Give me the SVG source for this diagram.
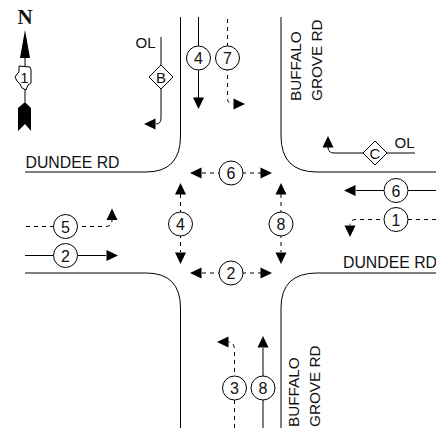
<svg xmlns="http://www.w3.org/2000/svg" width="436" height="434" viewBox="0 0 436 434">
<style>
text{font-family:"Liberation Sans",Arial,sans-serif;fill:#111}
.road{font-size:16px}
.roadv{font-size:15.300px}
.n{font-size:16px;text-anchor:middle}
.l{fill:none;stroke:#000;stroke-width:1}
.d{fill:none;stroke:#000;stroke-width:1;stroke-dasharray:4 4}
.c{fill:#fff;stroke:#000;stroke-width:1}
.a{fill:#000}
</style>
<defs>
<circle id="ci" r="12" class="c"/>
<polygon id="dm" points="0,-12 12,0 0,12 -12,0" class="c"/>
<polygon id="ah" points="0,0 -11.500,-5.500 -11.500,5.500" class="a"/>
</defs>
<g id="roads">
<path class="l" d="M180.500 17V136Q180.500 172 146 172H25"/>
<path class="l" d="M281 17V136Q281 172 317 172H436"/>
<path class="l" d="M25 273H146Q180.500 273 180.500 308V428"/>
<path class="l" d="M436 273H317Q281 273 281 308V428"/>
</g>
<g id="labels">
<text class="road" x="25.500" y="168" textLength="94" lengthAdjust="spacingAndGlyphs">DUNDEE RD</text>
<text class="road" x="343" y="268" textLength="94" lengthAdjust="spacingAndGlyphs">DUNDEE RD</text>
<text class="roadv" transform="translate(301 101) rotate(-90)">BUFFALO</text>
<text class="roadv" transform="translate(322 101) rotate(-90)">GROVE RD</text>
<text class="roadv" transform="translate(298.500 427) rotate(-90)">BUFFALO</text>
<text class="roadv" transform="translate(319.500 427) rotate(-90)">GROVE RD</text>
</g>
<g id="north">
<text x="25" y="24" text-anchor="middle" style="font-family:'Liberation Serif',serif;font-weight:bold;font-size:21px">N</text>
<path class="l" d="M25 50V102"/>
<polygon class="a" points="25,30 30,58 20,58"/>
<path class="c" d="M19 66L30 67L31 70L31 83L28 85L26 90L22 88L20 84L17 81L15 77L17 74L19 72Z"/>
<text x="24.500" y="83" text-anchor="middle" style="font-size:15px">1</text>
<polygon class="a" points="25,102 31,108 31,131 25,124 18,131 18,108"/>
</g>
<g id="connectors">
<path class="l" d="M161 37V118Q161 124 156 124"/><use href="#ah" transform="translate(144 124) rotate(180)"/>
<path class="l" d="M198.500 17V98"/><use href="#ah" transform="translate(198.500 109) rotate(90)"/>
<path class="d" d="M227.500 19V98Q227.500 104 233 104"/><use href="#ah" transform="translate(245 104)"/>
<path class="l" d="M415 153H334Q328 153 328 147"/><use href="#ah" transform="translate(328 136) rotate(-90)"/>
<path class="d" d="M202 173H261"/><use href="#ah" transform="translate(190 173) rotate(180)"/><use href="#ah" transform="translate(272 173)"/>
<path class="d" d="M202 273H261"/><use href="#ah" transform="translate(190 273) rotate(180)"/><use href="#ah" transform="translate(272 273)"/>
<path class="d" d="M180.500 194V252"/><use href="#ah" transform="translate(180.500 183) rotate(-90)"/><use href="#ah" transform="translate(180.500 264) rotate(90)"/>
<path class="d" d="M281 194V252"/><use href="#ah" transform="translate(281 183) rotate(-90)"/><use href="#ah" transform="translate(281 264) rotate(90)"/>
<path class="d" d="M26 226.500H106Q112 226.500 112 220"/><use href="#ah" transform="translate(112 208.500) rotate(-90)"/>
<path class="l" d="M25 255.500H106"/><use href="#ah" transform="translate(118 255.500)"/>
<path class="l" d="M436 190.500H356"/><use href="#ah" transform="translate(344 190.500) rotate(180)"/>
<path class="d" d="M436 219.500H356Q350 219.500 350 225"/><use href="#ah" transform="translate(350 237) rotate(90)"/>
<path class="d" d="M234.500 428V351Q234.500 342 229 342"/><use href="#ah" transform="translate(217 342) rotate(180)"/>
<path class="l" d="M263 428V348"/><use href="#ah" transform="translate(263 336) rotate(-90)"/>
</g>
<g id="n-4a"><use href="#ci" x="198.500" y="58"/><text class="n" x="198.500" y="64">4</text></g>
<g id="n-7"><use href="#ci" x="227.500" y="58"/><text class="n" x="227.500" y="64">7</text></g>
<g id="n-b"><text x="135.500" y="48" style="font-size:15px">OL</text><use href="#dm" x="161" y="77"/><text class="n" x="161" y="83" style="font-size:15px">B</text></g>
<g id="n-c"><text x="394.500" y="148" style="font-size:15px">OL</text><use href="#dm" x="375" y="153"/><text class="n" x="375" y="159" style="font-size:15px">C</text></g>
<g id="n-6a"><use href="#ci" x="231" y="173"/><text class="n" x="231" y="179">6</text></g>
<g id="n-2a"><use href="#ci" x="231" y="273"/><text class="n" x="231" y="279">2</text></g>
<g id="n-4b"><use href="#ci" x="180.500" y="224"/><text class="n" x="180.500" y="230">4</text></g>
<g id="n-8a"><use href="#ci" x="281" y="224"/><text class="n" x="281" y="230">8</text></g>
<g id="n-5"><use href="#ci" x="65.500" y="226.500"/><text class="n" x="65.500" y="232.500">5</text></g>
<g id="n-2b"><use href="#ci" x="65.500" y="255.500"/><text class="n" x="65.500" y="261.500">2</text></g>
<g id="n-6b"><use href="#ci" x="396" y="190.500"/><text class="n" x="396" y="196.500">6</text></g>
<g id="n-1"><use href="#ci" x="396" y="219.500"/><text class="n" x="396" y="225.500">1</text></g>
<g id="n-3"><use href="#ci" x="234.500" y="388"/><text class="n" x="234.500" y="394">3</text></g>
<g id="n-8b"><use href="#ci" x="263" y="388"/><text class="n" x="263" y="394">8</text></g>
</svg>
